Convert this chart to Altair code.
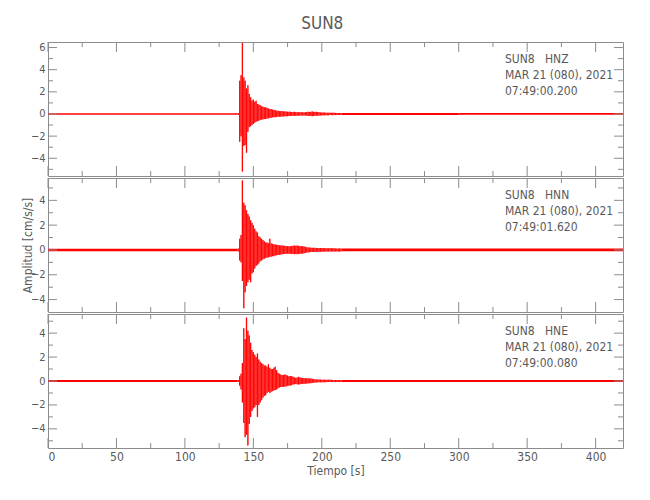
import altair as alt
import pandas as pd

TITLE = "SUN8"
X_LABEL = "Tiempo [s]"
Y_LABEL = "Amplitud [cm/s/s]"
X_DOMAIN = [0, 420]
X_MAJOR = [0, 50, 100, 150, 200, 250, 300, 350, 400]
X_MINOR = [25, 75, 125, 175, 225, 275, 325, 375]
Y_MAJOR = [-4, -2, 0, 2, 4, 6]
Y_MINOR = [-5, -3, -1, 1, 3, 5]

CHANNELS = ["HNZ", "HNN", "HNE"]
HEADERS = [
    ["SUN8\u00a0\u00a0\u00a0HNZ", "MAR 21 (080), 2021", "07:49:00.200"],
    ["SUN8\u00a0\u00a0\u00a0HNN", "MAR 21 (080), 2021", "07:49:01.620"],
    ["SUN8\u00a0\u00a0\u00a0HNE", "MAR 21 (080), 2021", "07:49:00.080"],
]
Y_DOMAINS = [[-5.6, 6.5], [-5.0, 5.8], [-5.6, 5.6]]

# envelope of each trace, one value per second starting at EVENT_START s
EVENT_START = 139
HNZ_UPPER = [0.10, 3.0, 3.5, 6.4, 3.3, 3.0, 2.3, 2.6, 1.8, 1.5, 1.2, 1.3, 1.1, 1.2, 0.9, 0.85,
             0.8, 0.7, 0.65, 0.6, 0.6, 0.55, 0.5, 0.45, 0.45, 0.4, 0.35, 0.35, 0.3, 0.3, 0.28,
             0.28, 0.25, 0.25, 0.22, 0.22, 0.2, 0.2, 0.2, 0.18, 0.18, 0.2, 0.18, 0.16, 0.16,
             0.15, 0.15, 0.15, 0.14, 0.15, 0.17, 0.2, 0.18, 0.2, 0.22, 0.2, 0.18, 0.2, 0.17,
             0.15, 0.14, 0.14, 0.13, 0.13, 0.12, 0.12, 0.12, 0.11, 0.11, 0.12, 0.11, 0.1, 0.1,
             0.1, 0.1, 0.1]
HNZ_LOWER = [-0.1, -2.5, -2.0, -5.2, -2.9, -2.8, -3.5, -1.6, -1.2, -1.1, -1.0, -0.9, -0.8, -0.7,
             -0.65, -0.6, -0.55, -0.5, -0.5, -0.45, -0.45, -0.4, -0.4, -0.35, -0.35, -0.3, -0.3,
             -0.3, -0.28, -0.26, -0.25, -0.24, -0.22, -0.22, -0.2, -0.2, -0.2, -0.18, -0.18,
             -0.17, -0.17, -0.18, -0.16, -0.15, -0.15, -0.14, -0.14, -0.14, -0.13, -0.14, -0.15,
             -0.18, -0.16, -0.18, -0.2, -0.18, -0.16, -0.17, -0.15, -0.14, -0.13, -0.13, -0.12,
             -0.12, -0.11, -0.11, -0.11, -0.1, -0.1, -0.11, -0.1, -0.1, -0.1, -0.09, -0.09, -0.09]
HNN_UPPER = [0.12, 0.9, 1.2, 5.6, 3.8, 3.6, 3.2, 2.9, 2.7, 2.4, 2.2, 2.0, 1.7, 1.5, 1.4, 1.1,
             1.0, 0.9, 0.8, 0.7, 0.6, 0.6, 0.55, 0.9, 0.55, 0.5, 0.45, 0.45, 0.42, 0.4, 0.38,
             0.36, 0.35, 0.34, 0.33, 0.32, 0.3, 0.3, 0.3, 0.32, 0.33, 0.35, 0.34, 0.35, 0.33,
             0.3, 0.32, 0.3, 0.28, 0.25, 0.22, 0.2, 0.2, 0.18, 0.18, 0.17, 0.17, 0.16, 0.16,
             0.15, 0.15, 0.15, 0.15, 0.14, 0.14, 0.14, 0.14, 0.13, 0.13, 0.13, 0.13, 0.12, 0.12,
             0.12, 0.12, 0.12]
HNN_LOWER = [-0.12, -0.85, -1.0, -2.5, -4.7, -3.4, -2.9, -2.6, -2.4, -2.6, -1.9, -1.8, -1.5,
             -1.3, -1.2, -1.1, -0.9, -0.85, -0.75, -0.7, -0.65, -0.6, -0.6, -0.55, -0.55, -0.5,
             -0.5, -0.45, -0.42, -0.4, -0.38, -0.36, -0.35, -0.33, -0.32, -0.3, -0.3, -0.3,
             -0.3, -0.32, -0.33, -0.34, -0.33, -0.34, -0.32, -0.3, -0.3, -0.28, -0.26, -0.24,
             -0.2, -0.2, -0.18, -0.17, -0.17, -0.16, -0.16, -0.15, -0.15, -0.15, -0.14, -0.14,
             -0.14, -0.13, -0.13, -0.13, -0.13, -0.12, -0.12, -0.12, -0.12, -0.12, -0.12,
             -0.12, -0.12, -0.12]
HNE_UPPER = [0.08, 0.4, 0.6, 1.5, 4.4, 3.5, 5.3, 4.2, 3.8, 3.2, 2.6, 2.4, 2.2, 2.0, 2.3, 1.8,
             1.6, 1.5, 1.4, 1.3, 1.3, 1.2, 1.4, 1.1, 1.0, 1.0, 1.1, 1.2, 0.9, 0.7, 0.6, 0.55,
             0.5, 0.5, 0.55, 0.5, 0.45, 0.4, 0.42, 0.4, 0.35, 0.3, 0.28, 0.3, 0.35, 0.3, 0.28,
             0.26, 0.25, 0.24, 0.22, 0.22, 0.2, 0.2, 0.18, 0.15, 0.14, 0.13, 0.12, 0.12, 0.12,
             0.11, 0.11, 0.11, 0.1, 0.1, 0.1, 0.1, 0.1, 0.09, 0.09, 0.09, 0.09, 0.09, 0.08, 0.08]
HNE_LOWER = [-0.08, -0.4, -0.7, -1.8, -3.5, -4.7, -4.5, -5.4, -3.6, -3.0, -2.5, -2.3, -2.2,
             -2.0, -3.0, -2.0, -1.8, -1.6, -1.4, -1.25, -1.2, -1.0, -0.9, -1.0, -0.9, -0.85,
             -0.8, -0.75, -0.7, -0.6, -0.55, -0.5, -0.5, -0.5, -0.45, -0.45, -0.4, -0.4, -0.38,
             -0.35, -0.3, -0.28, -0.26, -0.28, -0.3, -0.28, -0.26, -0.24, -0.23, -0.22, -0.2,
             -0.2, -0.18, -0.18, -0.16, -0.14, -0.13, -0.12, -0.11, -0.11, -0.11, -0.1, -0.1,
             -0.1, -0.1, -0.09, -0.09, -0.09, -0.09, -0.09, -0.08, -0.08, -0.08, -0.08, -0.08,
             -0.08]
UPPERS = [HNZ_UPPER, HNN_UPPER, HNE_UPPER]
LOWERS = [HNZ_LOWER, HNN_LOWER, HNE_LOWER]

# background noise level outside the event: (start s, end s, half amplitude)
NOISE = [
    [(0, 138.5, 0.07), (214.5, 300, 0.09), (300, 420, 0.08)],
    [(0, 138.5, 0.10), (214.5, 420, 0.11)],
    [(0, 138.5, 0.08), (214.5, 420, 0.08)],
]

# ---- style ----
W, H = 575, 134
TRACE = "#ff0000"
AXC = "#8c8c8c"
TXT = "#5a5a5a"
FONT = "DejaVu Sans Condensed"
MAJ, MIN = 10, 5
HEAD_X, HEAD_Y0, HEAD_DY = 457, 17, 16


def panel(i):
    xs = alt.Scale(domain=X_DOMAIN, nice=False, zero=False)
    dom = Y_DOMAINS[i]
    ys = alt.Scale(domain=dom, nice=False, zero=False)
    bottom = i == 2
    n = len(UPPERS[i])
    ev = pd.DataFrame({"t": [EVENT_START + k for k in range(n)],
                       "lo": LOWERS[i], "hi": UPPERS[i]})
    bg = pd.DataFrame({"t0": [s[0] for s in NOISE[i]], "t1": [s[1] for s in NOISE[i]],
                       "lo": [-s[2] for s in NOISE[i]], "hi": [s[2] for s in NOISE[i]]})

    if bottom:
        xax = alt.Axis(values=X_MAJOR, ticks=False, domain=False, grid=False,
                       labelPadding=3, title=X_LABEL, titlePadding=3, format="d")
    else:
        xax = alt.Axis(values=X_MAJOR, ticks=False, domain=False, grid=False,
                       labels=False, title=None)
    yvals = [v for v in Y_MAJOR if dom[0] <= v <= dom[1]]
    if i == 1:
        yax = alt.Axis(values=yvals, ticks=False, domain=False, grid=False,
                       labelPadding=3, labelFontSize=11, format="d", title=Y_LABEL,
                       titleX=-14, titleY=H / 2)
    else:
        yax = alt.Axis(values=yvals, ticks=False, domain=False, grid=False,
                       labelPadding=3, labelFontSize=11, format="d", title=None)

    def X(f):
        return alt.X(f, scale=xs, axis=xax)

    def Y(f):
        return alt.Y(f, scale=ys, axis=yax)

    layers = [
        alt.Chart(bg).mark_rect(color=TRACE).encode(x=X("t0:Q"), x2="t1:Q",
                                                    y=Y("lo:Q"), y2="hi:Q"),
        alt.Chart(ev).mark_area(color=TRACE, opacity=0.45, interpolate="step").encode(
            x=X("t:Q"), y=Y("lo:Q"), y2="hi:Q"),
        alt.Chart(ev).mark_rule(color=TRACE, strokeWidth=1.2, opacity=0.95).encode(
            x=X("t:Q"), y=Y("lo:Q"), y2="hi:Q"),
    ]
    for vals, ln in ((X_MAJOR, MAJ), (X_MINOR, MIN)):
        df = pd.DataFrame({"v": vals})
        for y0, y1 in ((H, H - ln), (0, ln)):
            layers.append(alt.Chart(df).mark_rule(color=AXC, strokeWidth=1).encode(
                x=X("v:Q"), y=alt.value(y0), y2=alt.value(y1)))
    for vals, ln in ((Y_MAJOR, MAJ - 1), (Y_MINOR, MIN)):
        df = pd.DataFrame({"v": [v for v in vals if dom[0] < v < dom[1]]})
        for x0, x1 in ((0, ln), (W, W - ln)):
            layers.append(alt.Chart(df).mark_rule(color=AXC, strokeWidth=1).encode(
                y=Y("v:Q"), x=alt.value(x0), x2=alt.value(x1)))

    hd = pd.DataFrame({"txt": HEADERS[i],
                       "py": [HEAD_Y0 + HEAD_DY * k for k in range(len(HEADERS[i]))]})
    layers.append(alt.Chart(hd).mark_text(align="left", baseline="middle", font=FONT,
                                          fontSize=12, color=TXT).encode(
        text="txt:N", x=alt.value(HEAD_X), y=alt.Y("py:Q", scale=None, axis=None)))

    return alt.layer(*layers).properties(width=W, height=H)


chart = alt.vconcat(*[panel(i) for i in range(3)], spacing=0).properties(
    title=alt.TitleParams(TITLE, font=FONT, fontSize=17, fontWeight="normal",
                          color=TXT, anchor="middle", offset=8),
    padding={"left": 12, "top": 7, "right": 5, "bottom": 5},
).configure_view(stroke=AXC, strokeWidth=1).configure_axis(
    labelFont=FONT, labelFontSize=12, labelColor=TXT,
    titleFont=FONT, titleFontSize=12, titleColor=TXT, titleFontWeight="normal",
)

chart.save("out.html", embed_options={"renderer": "svg", "actions": False})
